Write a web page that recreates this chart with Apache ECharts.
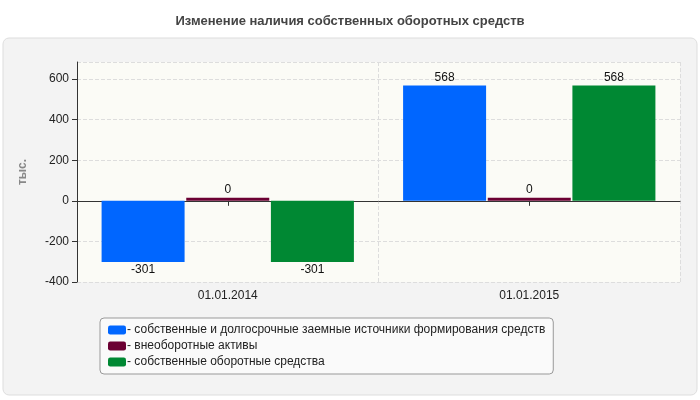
<!DOCTYPE html><html><head><meta charset="utf-8"><script src="https://cdn.jsdelivr.net/npm/echarts@6/dist/echarts.min.js"></script></head><body style="margin:0"><div id="c" style="width:700px;height:400px"></div><script>
const categories=['01.01.2014','01.01.2015'];
const seriesNames=['собственные и долгосрочные заемные источники формирования средств','внеоборотные активы','собственные оборотные средства'];
const s1=[-301,568];
const s2=[0,0];
const s3=[-301,568];
const colors=['#0066ff','#6b0033','#008833'];
const ch=echarts.init(document.getElementById('c'));
function mk(name,vals,i){return {name:name,type:'bar',barWidth:83,barGap:'2%',barMinHeight:3,itemStyle:{color:colors[i]},
 data:vals.map(v=>({value:v,label:{position:v<0?'bottom':'top'}})),
 label:{show:true,color:'#111',fontSize:12,fontFamily:'Arial',distance:2}};}
ch.setOption({
 animation:false,
 title:{text:'Изменение наличия собственных оборотных средств',left:'center',top:10,textStyle:{fontSize:13,fontWeight:'bold',color:'#444',fontFamily:'Arial'}},
 graphic:[{type:'rect',z:-10,shape:{x:3,y:38,width:694,height:357,r:6},style:{fill:'#f3f3f3',stroke:'#dddddd'}},
  {type:'rect',z:-9,shape:{x:77,y:62,width:603,height:220},style:{fill:'#fbfbf6'}}],
 grid:{left:77,right:20,top:62,bottom:118},
 legend:{orient:'vertical',left:100,top:318,width:500,itemWidth:18,itemHeight:9,itemGap:4,padding:[6,8,6,8],
  backgroundColor:'#fafafa',borderColor:'#999',borderWidth:1,borderRadius:4,
  formatter:n=>'- '+n,textStyle:{fontSize:12,fontFamily:'Arial',color:'#222',padding:[0,0,0,-4]}},
 xAxis:{type:'category',data:categories,axisTick:{show:true,alignWithLabel:true,length:5,lineStyle:{color:'#333'}},axisLine:{lineStyle:{color:'#333'}},
  splitLine:{show:true,interval:0,lineStyle:{type:'dashed',color:'#ddd'}},
  axisLabel:{fontSize:12,fontFamily:'Arial',color:'#222'}},
 yAxis:{type:'value',min:-400,max:684,interval:200,name:'тыс.',nameLocation:'middle',nameGap:48,nameTextStyle:{color:'#888',fontWeight:'bold',fontSize:12,fontFamily:'Arial'},
  axisLine:{show:true,lineStyle:{color:'#333'}},axisTick:{show:true,length:5,lineStyle:{color:'#333'}},
  axisLabel:{showMaxLabel:false,fontSize:12,fontFamily:'Arial',color:'#222'},
  splitLine:{lineStyle:{type:'dashed',color:'#ddd'}}},
 series:[mk(seriesNames[0],s1,0),mk(seriesNames[1],s2,1),mk(seriesNames[2],s3,2)]
});
</script></body></html>
